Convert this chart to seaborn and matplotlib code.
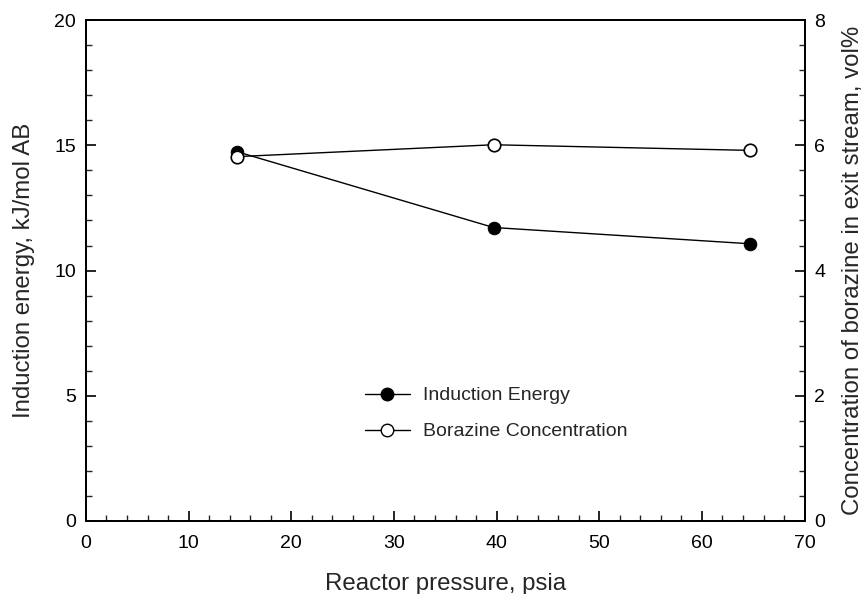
import matplotlib
matplotlib.use("Agg")
import matplotlib.pyplot as plt
import seaborn as sns
import pandas as pd
from matplotlib.ticker import MultipleLocator
from matplotlib.lines import Line2D

pressure = [14.7, 39.7, 64.7]
induction_energy = [14.75, 11.72, 11.07]
borazine_conc = [5.82, 6.01, 5.92]

sns.set_style("white")
plt.rcParams['font.family'] = ['Liberation Sans', 'DejaVu Sans']

fig = plt.figure(figsize=(8.68, 5.94), dpi=100)
ax = fig.add_axes([0.099, 0.123, 0.828, 0.843])
ax2 = ax.twinx()

df1 = pd.DataFrame({"p": pressure, "e": induction_energy})
df2 = pd.DataFrame({"p": pressure, "c": borazine_conc})

sns.lineplot(data=df1, x="p", y="e", ax=ax, color="black", lw=1.0,
             marker="o", markersize=9, markerfacecolor="black",
             markeredgecolor="black", zorder=3)
sns.lineplot(data=df2, x="p", y="c", ax=ax2, color="black", lw=1.0,
             marker="o", markersize=9, markerfacecolor="white",
             markeredgecolor="black", markeredgewidth=1.2, zorder=3)

ax.set_xlim(0, 70)
ax.set_ylim(0, 20)
ax2.set_ylim(0, 8)
ax.xaxis.set_major_locator(MultipleLocator(10))
ax.xaxis.set_minor_locator(MultipleLocator(2))
ax.yaxis.set_major_locator(MultipleLocator(5))
ax.yaxis.set_minor_locator(MultipleLocator(1))
ax2.yaxis.set_major_locator(MultipleLocator(2))
ax2.yaxis.set_minor_locator(MultipleLocator(0.4))

for a in (ax, ax2):
    for s in a.spines.values():
        s.set_linewidth(1.3)
        s.set_color("black")

ax.tick_params(axis="both", which="major", direction="in", length=7, width=1.2,
               labelsize=14, colors="black", bottom=True, left=True,
               top=False, right=False)
ax.tick_params(axis="x", which="major", pad=10)
ax.tick_params(axis="y", which="major", pad=7)
ax.tick_params(axis="both", which="minor", direction="in", length=4, width=1.0,
               bottom=True, left=True, top=False, right=False)
ax2.tick_params(axis="y", which="major", direction="in", length=7, width=1.2,
                labelsize=14, colors="black", pad=7, right=True)
ax2.tick_params(axis="y", which="minor", direction="in", length=4, width=1.0, right=True)

ax.set_xlabel("Reactor pressure, psia", fontsize=17.3, labelpad=15)
ax.set_ylabel("Induction energy, kJ/mol AB", fontsize=17.3, labelpad=14)
ax2.set_ylabel("Concentration of borazine in exit stream, vol%", fontsize=17.3, labelpad=12)

handles = [
    Line2D([], [], color="black", lw=1.0, marker="o", markersize=9,
           markerfacecolor="black", markeredgecolor="black"),
    Line2D([], [], color="black", lw=1.0, marker="o", markersize=9,
           markerfacecolor="white", markeredgecolor="black"),
]
ax.legend(handles, ["Induction Energy", "Borazine Concentration"],
          loc="upper left", bbox_to_anchor=(0.388, 0.268), frameon=False,
          fontsize=14, handlelength=2.3, handletextpad=0.67, labelspacing=0.95,
          borderpad=0, borderaxespad=0)

fig.savefig("out.png", dpi=100)
